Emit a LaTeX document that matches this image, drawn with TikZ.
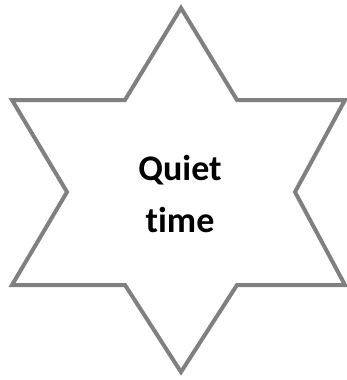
\documentclass[tikz,border=0pt]{standalone}
\usepackage{fontspec}
\setmainfont{Carlito}[Ligatures={NoCommon,NoRequired,NoContextual}]
\begin{document}
\begin{tikzpicture}[x=1pt,y=-1pt,
  starline/.style={draw=black!50, line width=4pt, line join=miter, fill=white},
  label/.style={font=\bfseries\fontsize{36}{52}\selectfont, align=center, text=black}]
\useasboundingbox (0,0) rectangle (347,380);
\draw[starline] (181,8) -- (237,100) -- (345,100) -- (295,192) -- (345,285) -- (237,285)
  -- (181,372) -- (125,285) -- (12,285) -- (67,192) -- (12,100) -- (125,100) -- cycle;
\node[label] (t) at (180,194) {Quiet\\time};
\end{tikzpicture}
\end{document}
